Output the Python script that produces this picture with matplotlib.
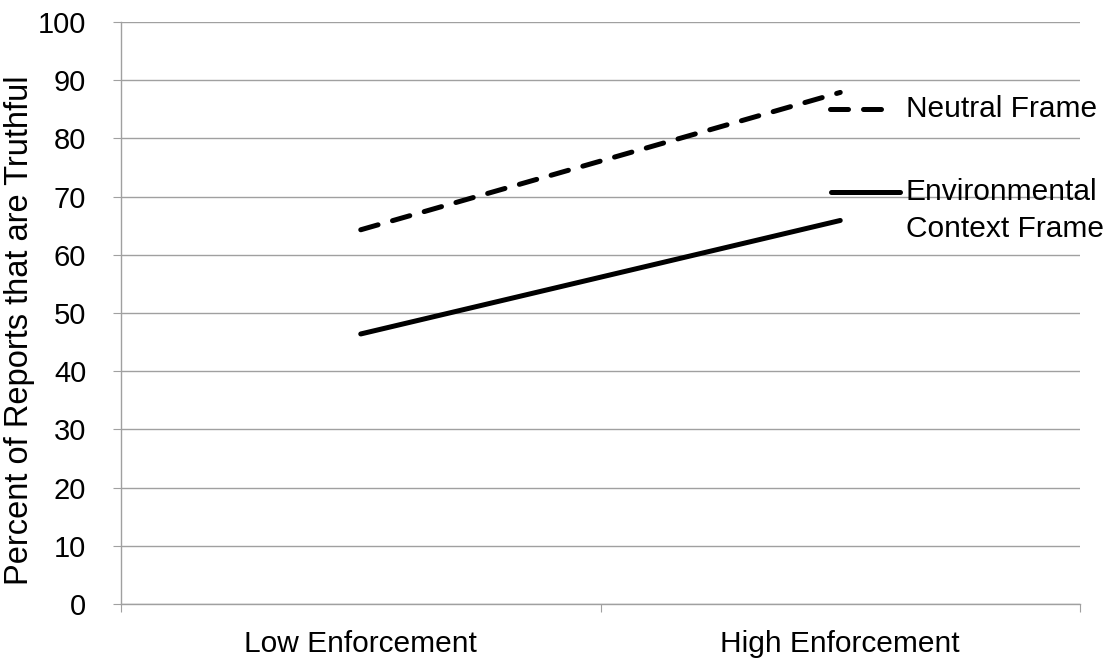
import matplotlib
matplotlib.use("Agg")
import matplotlib.pyplot as plt
from matplotlib.lines import Line2D

categories = ["Low Enforcement", "High Enforcement"]
neutral = [64.3, 87.9]
environmental = [46.4, 65.9]
yticks = [0, 10, 20, 30, 40, 50, 60, 70, 80, 90, 100]

plt.rcParams['font.family'] = ['Liberation Sans', 'DejaVu Sans']

FS = 21.5

fig = plt.figure(figsize=(11.14, 6.67), dpi=100)
ax = fig.add_axes([121/1114, 63/667, (1080-121)/1114, (604-22)/667])

xpos = [0.5, 1.5]
ax.plot(xpos, neutral, color='black', lw=3.6, linestyle=(0, (3.6, 3.0)),
        dash_capstyle='round', solid_capstyle='round')
ax.plot(xpos, environmental, color='black', lw=3.6, solid_capstyle='round')

ax.set_xlim(0, 2)
ax.set_ylim(0, 100)
ax.set_yticks(yticks)
ax.set_yticklabels([str(v) for v in yticks], fontsize=21)
ax.yaxis.grid(True, color='#a0a0a0', lw=1)
ax.set_axisbelow(True)
ax.set_xticks([0, 1, 2])
ax.set_xticklabels([])
ax.set_xticks(xpos, minor=True)
ax.set_xticklabels(categories, minor=True, fontsize=FS)
ax.tick_params(axis='x', which='minor', length=0, pad=19)
ax.tick_params(axis='x', which='major', length=6, color='#a0a0a0', direction='out')
ax.tick_params(axis='y', length=6, color='#a0a0a0', direction='out', pad=19)
for s in ['top', 'right']:
    ax.spines[s].set_visible(False)
for s in ['left', 'bottom']:
    ax.spines[s].set_color('#a0a0a0')
    ax.spines[s].set_linewidth(1)

ax.set_ylabel("Percent of Reports that are Truthful", fontsize=23.5)
ax.yaxis.set_label_coords(-(121 - 20) / 959, (604 - 330) / 582)
ax.yaxis.label.set_va('center')

# legend (manual, in figure pixel coordinates)
def fx(px):
    return px / 1114
def fy(py):
    return 1 - py / 667

fig.add_artist(Line2D([fx(830), fx(884)], [fy(109), fy(109)], color='black', lw=3.6,
                      linestyle=(0, (3.6, 3.0)), dash_capstyle='round'))
fig.text(fx(906), fy(109), "Neutral Frame", fontsize=FS, va='center', ha='left')
fig.add_artist(Line2D([fx(831), fx(900)], [fy(192), fy(192)], color='black', lw=3.6,
                      solid_capstyle='round'))
fig.text(fx(906), fy(192), "Environmental", fontsize=FS, va='center', ha='left')
fig.text(fx(906), fy(229), "Context Frame", fontsize=FS, va='center', ha='left')

fig.savefig("out.png", dpi=100)
